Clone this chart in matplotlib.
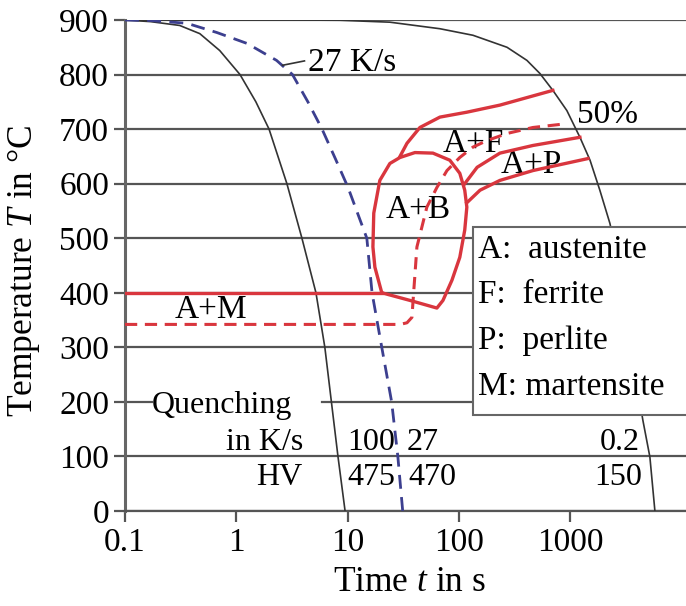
import matplotlib
matplotlib.use('Agg')
import matplotlib.pyplot as plt
from matplotlib.patches import Rectangle

plt.rcParams['font.family'] = ['Liberation Serif', 'DejaVu Serif']
plt.rcParams['mathtext.fontset'] = 'custom'
plt.rcParams['mathtext.rm'] = 'Liberation Serif'
plt.rcParams['mathtext.it'] = 'Liberation Serif:italic'

# cooling curves (time in s, temperature in C)
cool_100_t = [0.1, 0.17, 0.31, 0.47, 0.71, 1.08, 1.5, 1.97, 2.85, 3.89, 5.2, 6.25, 8.2, 9.5]
cool_100_T = [900, 897, 890, 875, 844, 800, 750, 700, 600, 500, 400, 300, 100, 0]

cool_27_t = [0.1, 0.17, 0.36, 0.67, 1.25, 2.3, 3.2, 4.4, 5.9, 7.8, 10.1, 14.9, 16.6, 20.3, 24.9, 28.3, 31.3]
cool_27_T = [900, 899, 894, 877, 857, 826, 800, 750, 700, 645, 593, 500, 400, 300, 200, 100, 0]

cool_02_t = [0.1, 3, 8.55, 24, 67.6, 134, 271, 409, 535, 700, 935, 1225, 1510, 1850,
             2280, 2800, 3590, 4500, 5210, 5780]
cool_02_T = [900, 900, 899.5, 896, 884, 872, 850, 826, 802, 771, 734, 685, 643, 588,
             527, 440, 290, 167, 99, 0]

# martensite start
ms_t = [0.1, 20.3]
ms_T = [400, 400]

# bainite region loop
bain_t = [20.3, 17.6, 16.9, 17.2, 19.5, 24.0, 29.6, 40.3, 58.5, 83, 102, 113, 118,
          113, 102, 86.7, 72, 63.5, 36.4, 20.3]
bain_T = [400, 447, 484, 546, 606, 637, 648, 657, 656, 643, 619, 588, 557,
          515, 465, 423, 386, 372, 386, 400]

# ferrite start
fer_t = [29.6, 34.2, 44.7, 67.6, 118, 234, 700]
fer_T = [650, 674, 703, 722, 731, 744, 771]

# 50 % line (dashed)
half_t = [0.1, 29.6, 34.2, 37.9, 38.8, 42, 51.6, 63.5, 78.2, 102, 134, 179, 271, 463, 935]
half_T = [342, 342, 345, 355, 386, 484, 557, 593, 624, 648, 667, 679, 692, 703, 710]

# perlite lines
perl1_t = [113, 146, 234, 463, 1225]
perl1_T = [600, 630, 656, 670, 685]
perl2_t = [118, 155, 234, 463, 1445]
perl2_T = [565, 588, 606, 624, 646]

x_ticks = [0.1, 1, 10, 100, 1000]
x_labels = ['0.1', '1', '10', '100', '1000']
y_ticks = [0, 100, 200, 300, 400, 500, 600, 700, 800, 900]

legend_lines = ['A:  austenite', 'F:  ferrite', 'P:  perlite', 'M: martensite']

red = '#d9363e'
blue = '#3c3f8f'
grid_c = '#555555'

fig = plt.figure(figsize=(6.86, 6.06), dpi=100)
ax = fig.add_axes([125 / 686, 95 / 606, 561 / 686, 491 / 606])
ax.set_xscale('log')
ax.set_xlim(0.1, 1.1e4)
ax.set_ylim(0, 900)

# horizontal grid, the 200 line is broken by the "Quenching" text
for y in y_ticks:
    if y == 200:
        ax.axhline(y, 0, 0.048, color=grid_c, lw=1.6, zorder=1)
        ax.axhline(y, 0.351, 1, color=grid_c, lw=1.6, zorder=1)
    else:
        ax.axhline(y, color=grid_c, lw=1.6, zorder=1)

ax.plot(cool_100_t, cool_100_T, color='#333333', lw=1.2, zorder=3)
ax.plot(cool_02_t, cool_02_T, color='#333333', lw=1.2, zorder=3)
ax.plot(cool_27_t, cool_27_T, color=blue, lw=2, ls=(0, (5, 3)), zorder=3)

ax.plot(ms_t, ms_T, color=red, lw=2.4, zorder=4)
ax.plot(bain_t, bain_T, color=red, lw=2.4, zorder=4)
ax.plot(fer_t, fer_T, color=red, lw=2.4, zorder=4)
ax.plot(perl1_t, perl1_T, color=red, lw=2.4, zorder=4)
ax.plot(perl2_t, perl2_T, color=red, lw=2.4, zorder=4)
ax.plot(half_t, half_T, color=red, lw=2.2, ls=(0, (4, 2.5)), zorder=4)

# labels in the diagram
fs = 24
ax.plot([2.6, 4.1], [817, 825], color='#333333', lw=1.2, zorder=3)
ax.text(4.4, 822, '27 K/s', fontsize=fs, va='center', ha='left')
ax.text(2190, 726, '50%', fontsize=fs, va='center', ha='center')
ax.text(134, 674, 'A+F', fontsize=fs, va='center', ha='center')
ax.text(444, 634, 'A+P', fontsize=fs, va='center', ha='center')
ax.text(43, 553, 'A+B', fontsize=fs, va='center', ha='center')
ax.text(0.59, 368, 'A+M', fontsize=fs, va='center', ha='center')

# quenching table
fs2 = 23
ax.text(0.175, 194, 'Quenching', fontsize=fs2, va='center', ha='left')
ax.text(3.97, 125, 'in K/s', fontsize=fs2, va='center', ha='right')
ax.text(3.9, 62, 'HV', fontsize=fs2, va='center', ha='right')
ax.text(9.9, 125, '100', fontsize=fs2, va='center', ha='left')
ax.text(34, 125, '27', fontsize=fs2, va='center', ha='left')
ax.text(4240, 125, '0.2', fontsize=fs2, va='center', ha='right')
ax.text(9.9, 62, '475', fontsize=fs2, va='center', ha='left')
ax.text(34.9, 62, '470', fontsize=fs2, va='center', ha='left')
ax.text(4440, 62, '150', fontsize=fs2, va='center', ha='right')

# legend box
ax.add_patch(Rectangle((0.62, 0.1955), 0.5, 0.383, transform=ax.transAxes,
                       facecolor='white', edgecolor='#666666', lw=1.5, zorder=6))
for i, s in enumerate(legend_lines):
    ax.text(0.629, 0.533 - i * 0.0935, s, transform=ax.transAxes, fontsize=fs,
            va='center', ha='left', zorder=7)

ax.set_xticks(x_ticks)
ax.set_xticklabels(x_labels)
ax.minorticks_off()
ax.set_yticks(y_ticks)
ax.tick_params(axis='both', labelsize=24, length=8, width=1.6, color=grid_c)
ax.tick_params(axis='x', pad=4)
ax.tick_params(axis='y', pad=3.5)

for side in ['top', 'right']:
    ax.spines[side].set_visible(False)
ax.spines['left'].set_color('#666666')
ax.spines['left'].set_linewidth(2.2)
ax.spines['bottom'].set_color(grid_c)
ax.spines['bottom'].set_linewidth(1.6)

ax.set_xlabel('Time $t$ in s', fontsize=25.5)
ax.set_ylabel('Temperature $T$ in °C', fontsize=25.5)
ax.xaxis.set_label_coords(0.508, -0.112)
ax.yaxis.set_label_coords(-0.148, 0.489)

fig.savefig('out.png', dpi=100)
